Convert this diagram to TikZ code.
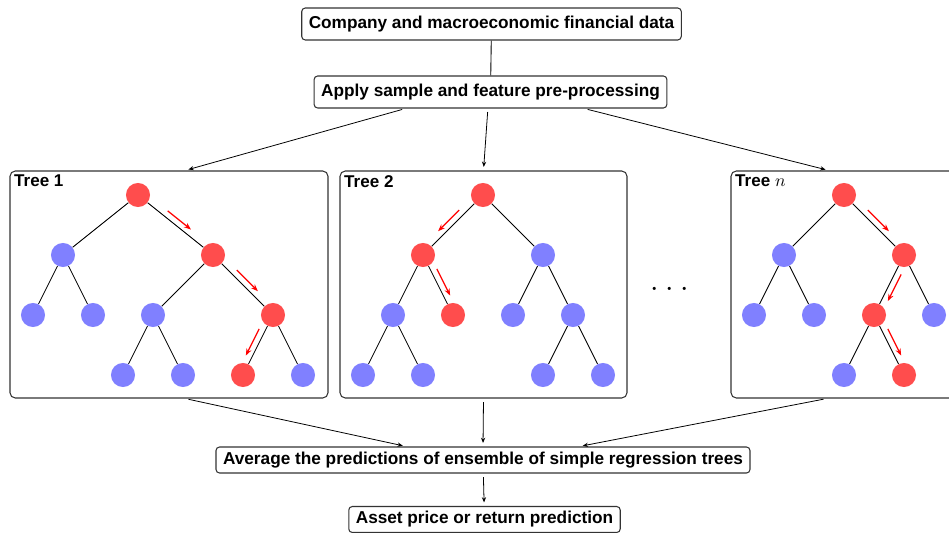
\documentclass[tikz,border=0pt]{standalone}
\usepackage{fontspec}
\setmainfont{Liberation Sans}
\usetikzlibrary{arrows.meta,calc,fit}
\definecolor{leafblue}{RGB}{128,128,255}
\definecolor{pathred}{RGB}{255,77,77}
\tikzset{
  procbox/.style={draw=black!80, line width=0.6pt, rounded corners=2pt, inner xsep=4pt,
    font=\fontsize{9.8}{11}\selectfont\bfseries},
  treebox/.style={draw=black!80, line width=0.6pt, rounded corners=3pt, inner sep=0pt},
  tree label/.style={anchor=north west, inner sep=2.5pt, font=\fontsize{9.7}{11}\selectfont\bfseries},
  blue node/.style={circle, fill=leafblue, minimum size=13.7pt, inner sep=0pt},
  red node/.style={circle, fill=pathred, minimum size=13.7pt, inner sep=0pt},
  branch/.style={line width=0.5pt},
  feed/.style={-{Stealth[length=3pt,width=2.4pt]}, line width=0.45pt, shorten <=2pt, shorten >=2pt},
  hint/.style={draw=red, line width=0.7pt, -{Stealth[length=4pt,width=3pt]}}
}
% red arrow drawn beside the edge #1--#2, on side #3 (90 or -90)
\newcommand{\hop}[3]{\draw[hint] ($(#1)!.5!(#2)!8.5pt!180:(#2)!3.5pt!#3:(#2)$) -- ($(#1)!.5!(#2)!8.5pt!(#2)!3.5pt!#3:(#2)$);}

\begin{document}
\begin{tikzpicture}[x=0.02cm,y=-0.02cm]
    \useasboundingbox (0,0) rectangle (949,533);
    \clip (0,0) rectangle (949,533);
    % pipeline boxes
    \node[procbox, minimum height=18.2pt](data)at(491.5,24){Company and macroeconomic financial data};
    \node[procbox, minimum height=18.2pt](prep)at(490.5,92){Apply sample and feature pre-processing};
    \node[procbox, minimum height=14.8pt, inner ysep=2pt](avg)at(483,460){Average the predictions of ensemble of simple regression trees};
    \node[procbox, minimum height=14.8pt, inner ysep=2pt](out)at(484.5,519.5){Asset price or return prediction};
    % tree frames
    \node[treebox, fit={(10,171) (328,398)}](tree1){};
    \node[treebox, fit={(340,171) (627,398)}](tree2){};
    \node[treebox, fit={(731,171) (959,398)}](treen){};
    \node[tree label](lab1)at(tree1.north west){Tree 1};
    \node[tree label](lab2)at(tree2.north west){Tree 2};
    \node[tree label](labn)at(treen.north west){Tree $n$};
    \node[font=\LARGE, inner sep=0pt](dots)at(670,290){$\cdot$\hspace{3.7pt}$\cdot$\hspace{3.7pt}$\cdot$};

    % tree 1
    \node[red node](a)at(138,195){};
    \node[blue node](al)at(63,255){}; \node[red node](ar)at(213,255){};
    \node[blue node](all)at(33,315){}; \node[blue node](alr)at(93,315){};
    \node[blue node](arl)at(153,315){}; \node[red node](arr)at(273,315){};
    \node[blue node](arll)at(123,375){}; \node[blue node](arlr)at(183,375){};
    \node[red node](arrl)at(243,375){}; \node[blue node](arrr)at(303,375){};
    \draw[branch](a)--(al); \draw[branch](a)--(ar);
    \draw[branch](al)--(all); \draw[branch](al)--(alr);
    \draw[branch](ar)--(arl); \draw[branch](ar)--(arr);
    \draw[branch](arl)--(arll); \draw[branch](arl)--(arlr);
    \draw[branch](arr)--(arrl); \draw[branch](arr)--(arrr);
    \hop{a}{ar}{90} \hop{ar}{arr}{90} \hop{arr}{arrl}{-90}

    % tree 2
    \node[red node](b)at(483,195){};
    \node[red node](bl)at(423,255){}; \node[blue node](br)at(543,255){};
    \node[blue node](bll)at(393,315){}; \node[red node](blr)at(453,315){};
    \node[blue node](brl)at(513,315){}; \node[blue node](brr)at(573,315){};
    \node[blue node](blll)at(363,375){}; \node[blue node](bllr)at(423,375){};
    \node[blue node](brrl)at(543,375){}; \node[blue node](brrr)at(603,375){};
    \draw[branch](b)--(bl); \draw[branch](b)--(br);
    \draw[branch](bl)--(bll); \draw[branch](bl)--(blr);
    \draw[branch](br)--(brl); \draw[branch](br)--(brr);
    \draw[branch](bll)--(blll); \draw[branch](bll)--(bllr);
    \draw[branch](brr)--(brrl); \draw[branch](brr)--(brrr);
    \hop{b}{bl}{-90} \hop{bl}{blr}{90}

    % tree n
    \node[red node](c)at(844,195){};
    \node[blue node](cl)at(784,255){}; \node[red node](cr)at(904,255){};
    \node[blue node](cll)at(754,315){}; \node[blue node](clr)at(814,315){};
    \node[red node](crl)at(874,315){}; \node[blue node](crr)at(934,315){};
    \node[blue node](crll)at(844,375){}; \node[red node](crlr)at(904,375){};
    \draw[branch](c)--(cl); \draw[branch](c)--(cr);
    \draw[branch](cl)--(cll); \draw[branch](cl)--(clr);
    \draw[branch](cr)--(crl); \draw[branch](cr)--(crr);
    \draw[branch](crl)--(crll); \draw[branch](crl)--(crlr);
    \hop{c}{cr}{90} \hop{cr}{crl}{90} \hop{crl}{crlr}{90}

    % flow
    \draw[branch](data)--(prep);
    \draw[feed](prep.191)--(tree1.82);
    \draw[feed](prep.261)--(tree2.north);
    \draw[feed](prep.350)--(treen.98.5);
    \draw[feed](tree1.278)--(avg.170.5);
    \draw[feed](tree2.south)--(avg.north);
    \draw[feed](treen.261.5)--(avg.8);
    \draw[feed](avg)--(out);
\end{tikzpicture}
\end{document}
